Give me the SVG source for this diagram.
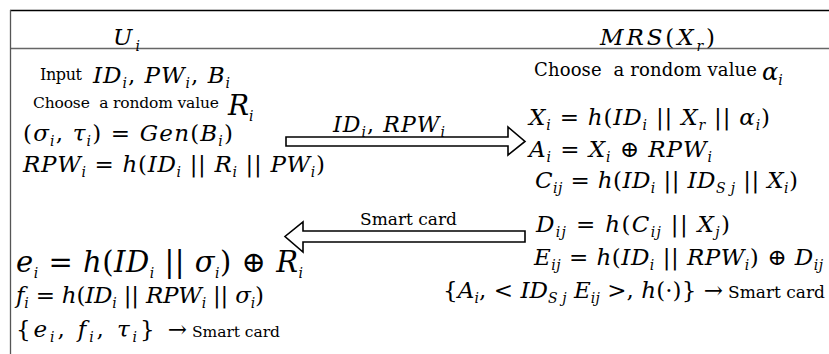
<svg xmlns="http://www.w3.org/2000/svg" width="829" height="354" viewBox="0 0 829 354" font-family="'DejaVu Serif', serif">
<style>
text{fill:#000;font-family:'DejaVu Serif',serif}
.m{font-style:italic}
.u{font-style:normal}
.t{font-style:normal}
.e{font-size:23px;font-style:italic}
.s{font-size:14px}
.ar{fill:#fff;stroke:#000;stroke-width:1.6}
</style>
<rect width="829" height="354" fill="#fff"/>
<g id="frame" fill="none">
<line x1="10" y1="10.5" x2="829" y2="10.5" stroke="#000" stroke-width="1.3"/>
<line x1="10" y1="48.5" x2="829" y2="48.5" stroke="#666" stroke-width="1.5"/>
<line x1="10.5" y1="10" x2="10.5" y2="354" stroke="#555" stroke-width="1.3"/>
</g>
<g id="user">
<text x="113" y="45" class="m" font-size="23">U<tspan class="s" dx="3" dy="6">i</tspan></text>
<text x="40" y="80" class="t" font-size="16" textLength="42">Input</text>
<text x="93" y="83" class="e" textLength="137">ID<tspan class="s" dy="5">i</tspan><tspan dy="-5" class="u">, </tspan>PW<tspan class="s" dy="5">i</tspan><tspan dy="-5" class="u">, </tspan>B<tspan class="s" dy="5">i</tspan></text>
<text x="33" y="108" class="t" font-size="15.5" textLength="186" style="white-space:pre">Choose  a rondom value</text>
<text x="228" y="115" class="m" font-size="28">R<tspan class="s" font-size="16" dy="6">i</tspan></text>
<text x="23" y="141" class="e" font-size="24" textLength="210"><tspan class="u">(</tspan>σ<tspan class="s" dy="5">i</tspan><tspan dy="-5" class="u">, </tspan>τ<tspan class="s" dy="5">i</tspan><tspan dy="-5" class="u">) = </tspan>Gen<tspan class="u">(</tspan>B<tspan class="s" dy="5">i</tspan><tspan dy="-5" class="u">)</tspan></text>
<text x="23" y="172" class="e" textLength="302">RPW<tspan class="s" dy="5">i</tspan><tspan dy="-5" class="u"> = </tspan>h<tspan class="u">(</tspan>ID<tspan class="s" dy="5">i</tspan><tspan dy="-5" class="u"> || </tspan>R<tspan class="s" dy="5">i</tspan><tspan dy="-5" class="u"> || </tspan>PW<tspan class="s" dy="5">i</tspan><tspan dy="-5" class="u">)</tspan></text>
<text x="16" y="272" class="m" font-size="29" textLength="287">e<tspan class="s" font-size="17" dy="6">i</tspan><tspan dy="-6" class="u"> = </tspan>h<tspan class="u">(</tspan>ID<tspan class="s" font-size="17" dy="6">i</tspan><tspan dy="-6" class="u"> || </tspan>σ<tspan class="s" font-size="17" dy="6">i</tspan><tspan dy="-6" class="u">) ⊕ </tspan>R<tspan class="s" font-size="17" dy="6">i</tspan></text>
<text x="16" y="303" class="e" font-size="21" textLength="248">f<tspan class="s" dy="5">i</tspan><tspan dy="-5" class="u"> = </tspan>h<tspan class="u">(</tspan>ID<tspan class="s" dy="5">i</tspan><tspan dy="-5" class="u"> || </tspan>RPW<tspan class="s" dy="5">i</tspan><tspan dy="-5" class="u"> || </tspan>σ<tspan class="s" dy="5">i</tspan><tspan dy="-5" class="u">)</tspan></text>
<text x="16" y="337" class="e" font-size="23" textLength="171"><tspan class="u">{</tspan>e<tspan class="s" dy="5">i</tspan><tspan dy="-5" class="u">, </tspan>f<tspan class="s" dy="5">i</tspan><tspan dy="-5" class="u">, </tspan>τ<tspan class="s" dy="5">i</tspan><tspan dy="-5" class="u">} →</tspan></text>
<text x="192" y="337" class="t" font-size="15.5" textLength="88">Smart card</text>
</g>
<g id="server">
<text x="600" y="45" class="m" font-size="23" textLength="115">MRS<tspan class="u">(</tspan>X<tspan class="s" dy="6">r</tspan><tspan dy="-6" class="u">)</tspan></text>
<text x="534" y="76" class="t" font-size="18" textLength="223" style="white-space:pre">Choose  a rondom value</text>
<text x="762" y="80" class="m" font-size="24">α<tspan class="s" dy="5">i</tspan></text>
<text x="529" y="125" class="e" textLength="241">X<tspan class="s" dy="5">i</tspan><tspan dy="-5" class="u"> = </tspan>h<tspan class="u">(</tspan>ID<tspan class="s" dy="5">i</tspan><tspan dy="-5" class="u"> || </tspan>X<tspan class="s" dy="5">r</tspan><tspan dy="-5" class="u"> || </tspan>α<tspan class="s" dy="5">i</tspan><tspan dy="-5" class="u">)</tspan></text>
<text x="529" y="157" class="e" textLength="183">A<tspan class="s" dy="5">i</tspan><tspan dy="-5" class="u"> = </tspan>X<tspan class="s" dy="5">i</tspan><tspan dy="-5" class="u"> ⊕ </tspan>RPW<tspan class="s" dy="5">i</tspan></text>
<text x="535" y="188" class="e" textLength="263">C<tspan class="s" dy="5">ij</tspan><tspan dy="-5" class="u"> = </tspan>h<tspan class="u">(</tspan>ID<tspan class="s" dy="5">i</tspan><tspan dy="-5" class="u"> || </tspan>ID<tspan class="s" dy="5">S j</tspan><tspan dy="-5" class="u"> || </tspan>X<tspan class="s" dy="5">i</tspan><tspan dy="-5" class="u">)</tspan></text>
<text x="536" y="232" class="e" textLength="194">D<tspan class="s" dy="5">ij</tspan><tspan dy="-5" class="u"> = </tspan>h<tspan class="u">(</tspan>C<tspan class="s" dy="5">ij</tspan><tspan dy="-5" class="u"> || </tspan>X<tspan class="s" dy="5">j</tspan><tspan dy="-5" class="u">)</tspan></text>
<text x="534" y="265" class="e" textLength="289">E<tspan class="s" dy="5">ij</tspan><tspan dy="-5" class="u"> = </tspan>h<tspan class="u">(</tspan>ID<tspan class="s" dy="5">i</tspan><tspan dy="-5" class="u"> || </tspan>RPW<tspan class="s" dy="5">i</tspan><tspan dy="-5" class="u">) ⊕ </tspan>D<tspan class="s" dy="5">ij</tspan></text>
<text x="443" y="298" class="e" font-size="22" textLength="280"><tspan class="u">{</tspan>A<tspan class="s" dy="5">i</tspan><tspan dy="-5" class="u">, &lt; </tspan>ID<tspan class="s" dy="5">S j</tspan><tspan dy="-5"> E</tspan><tspan class="s" dy="5">ij</tspan><tspan dy="-5" class="u"> &gt;, </tspan>h<tspan class="u">(·)} →</tspan></text>
<text x="728" y="298" class="t" font-size="17" textLength="97">Smart card</text>
</g>
<g id="connectors">
<polygon class="ar" points="286,137 508,137 508,127 525,141.5 508,155 508,146 286,146"/>
<text x="333" y="132" class="m" font-size="22" textLength="112">ID<tspan class="s" dy="5">i</tspan><tspan dy="-5" class="u">, </tspan>RPW<tspan class="s" dy="5">i</tspan></text>
<polygon class="ar" points="525,231 303,231 303,222 285,236.5 303,252 303,242 525,242"/>
<text x="360" y="225" class="t" font-size="17" textLength="97">Smart card</text>
</g>
</svg>
